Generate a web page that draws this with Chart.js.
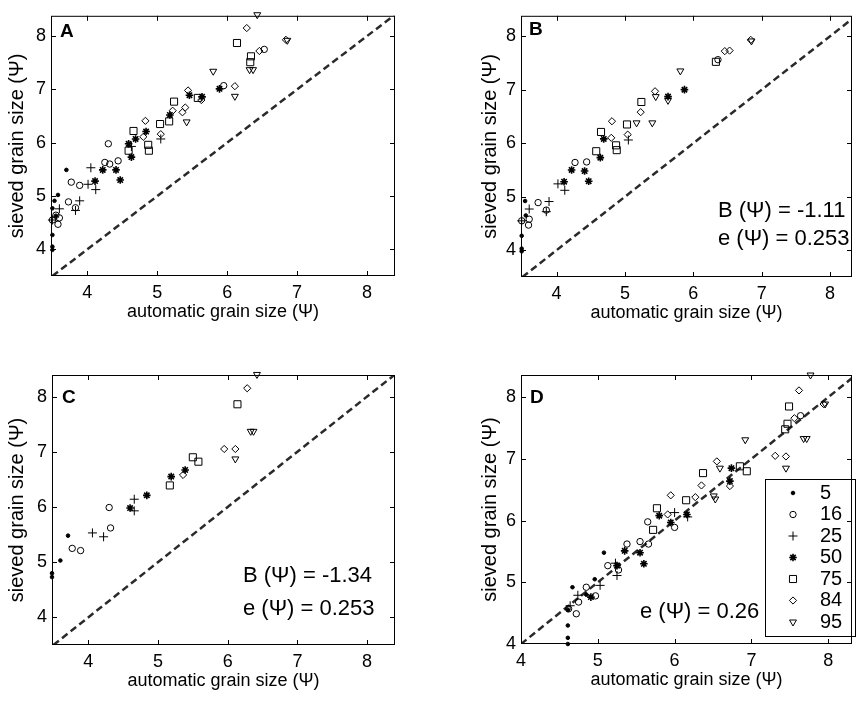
<!DOCTYPE html>
<html>
<head>
<meta charset="utf-8">
<script src="https://cdn.jsdelivr.net/npm/chart.js@4.4.1/dist/chart.umd.min.js"></script>
<style>
  html, body { margin: 0; padding: 0; background: #fff; }
  body { width: 858px; height: 701px; position: relative; overflow: hidden; }
  .panel { position: absolute; }
</style>
</head>
<body>
<div class="panel" style="left:0;top:0;width:430px;height:345px"><canvas id="chartA"></canvas></div>
<div class="panel" style="left:430px;top:0;width:428px;height:345px"><canvas id="chartB"></canvas></div>
<div class="panel" style="left:0;top:345px;width:430px;height:356px"><canvas id="chartC"></canvas></div>
<div class="panel" style="left:430px;top:345px;width:428px;height:356px"><canvas id="chartD"></canvas></div>
<script>
// percentiles shown in the legend
var percentiles = ['5', '16', '25', '50', '75', '84', '95'];
var tickValues = [4, 5, 6, 7, 8];

// panel A : raw automatic vs sieved  [automatic, sieved]
var a5  = [[3.70,5.49],[3.58,5.02],[3.53,4.91],[3.50,4.77],[3.55,4.63],[3.50,4.27],[3.50,4.05],[3.50,3.99]];
var a16 = [[3.77,5.26],[3.89,5.20],[3.73,4.89],[3.83,4.78],[3.55,4.64],[3.60,4.59],[3.58,4.47],[3.50,4.55],[4.30,5.98],[4.25,5.63],[4.32,5.60],[4.44,5.66],[5.95,7.07],[6.53,7.75]];
var a25 = [[4.05,5.53],[4.01,5.22],[4.12,5.12],[3.60,4.76],[3.89,4.91],[3.83,4.73],[3.50,4.55],[4.63,5.93],[5.05,6.07]];
var a50 = [[4.22,5.49],[4.41,5.49],[4.47,5.30],[4.11,5.28],[4.59,5.98],[4.69,6.07],[4.63,5.73],[4.84,6.21],[5.18,6.52],[5.46,6.89],[5.64,6.86],[5.89,7.01]];
var a75 = [[4.66,6.22],[4.59,5.85],[4.87,5.96],[4.88,5.85],[5.04,6.35],[5.17,6.40],[5.24,6.77],[5.58,6.84],[6.14,7.87],[6.34,7.62],[6.33,7.51]];
var a84 = [[4.83,6.41],[4.80,6.11],[5.05,6.16],[5.22,6.60],[5.36,6.57],[5.40,6.66],[5.44,6.98],[5.63,6.80],[6.11,7.06],[6.28,8.15],[6.46,7.72],[6.84,7.93]];
var a95 = [[5.42,6.39],[5.80,7.34],[6.11,6.87],[6.32,7.37],[6.37,7.37],[6.43,8.40],[6.86,7.92]];

// panel B
var b5  = [[3.54,4.92],[3.55,4.65],[3.49,4.27],[3.49,4.03],[3.49,3.98]];
var b16 = [[3.73,4.89],[3.85,4.75],[3.60,4.58],[3.59,4.47],[3.49,4.55],[4.27,5.64],[4.44,5.65],[6.36,7.56]];
var b25 = [[3.60,4.77],[3.89,4.91],[4.02,5.24],[4.12,5.12],[3.49,4.55],[5.05,6.06],[3.85,4.72]];
var b50 = [[4.11,5.28],[4.22,5.50],[4.41,5.48],[4.47,5.29],[4.64,5.73],[4.69,6.08],[5.63,6.87],[5.87,7.00]];
var b75 = [[4.58,5.85],[4.65,6.21],[4.87,5.96],[4.88,5.87],[5.03,6.35],[5.24,6.77],[6.33,7.52]];
var b84 = [[4.80,6.10],[4.81,6.41],[5.04,6.16],[5.23,6.58],[5.44,6.97],[6.46,7.72],[6.53,7.73],[6.84,7.93]];
var b95 = [[5.17,6.38],[5.40,6.38],[5.45,6.87],[5.63,6.80],[5.81,7.35],[6.85,7.91]];

// panel C
var c5  = [[3.71,5.48],[3.60,5.03],[3.48,4.80],[3.48,4.73]];
var c16 = [[3.77,5.25],[3.89,5.21],[4.30,5.99],[4.32,5.62]];
var c25 = [[4.06,5.53],[4.66,6.14],[4.66,5.93],[4.22,5.46]];
var c50 = [[4.60,5.98],[4.84,6.21],[5.19,6.55],[5.39,6.67]];
var c75 = [[5.17,6.39],[5.50,6.90],[5.58,6.82],[6.14,7.86]];
var c84 = [[5.36,6.58],[5.95,7.05],[6.11,7.05],[6.28,8.15]];
var c95 = [[6.11,6.87],[6.33,7.37],[6.37,7.37],[6.42,8.40]];

// panel D : corrected
var d5  = [[4.61,4.00],[4.61,4.10],[4.61,4.30],[4.67,4.92],[5.08,5.48],[4.85,4.80],[4.61,4.55],[4.96,5.05]];
var d16 = [[4.62,4.57],[4.72,4.49],[4.75,4.68],[4.85,4.92],[4.97,4.78],[5.13,5.27],[5.27,5.20],[5.38,5.62],[5.55,5.66],[5.66,5.62],[5.65,5.98],[6.00,5.89],[7.64,7.70]];
var d25 = [[4.74,4.79],[5.03,4.95],[5.25,5.11],[5.23,5.31],[6.00,6.13],[6.17,6.06],[4.64,4.62]];
var d50 = [[4.91,4.76],[5.25,5.27],[5.35,5.51],[5.55,5.48],[5.60,5.30],[5.80,6.08],[5.95,5.97],[6.16,6.10],[6.72,6.64],[6.74,6.85]];
var d75 = [[5.72,5.85],[5.77,6.20],[6.15,6.33],[6.37,6.77],[6.85,6.88],[6.94,6.80],[7.44,7.48],[7.47,7.57],[7.49,7.85]];
var d84 = [[5.91,6.10],[5.95,6.41],[6.27,6.38],[6.35,6.57],[6.55,6.96],[6.72,6.56],[7.31,7.05],[7.45,7.04],[7.62,8.11],[7.56,7.66],[7.94,7.89]];
var d95 = [[6.51,6.40],[6.53,6.35],[6.59,6.85],[6.92,7.31],[7.45,6.85],[7.68,7.33],[7.72,7.33],[7.77,8.36],[7.96,7.89]];

var FONT = "'Liberation Sans', Arial, Helvetica, sans-serif";

var markerStyles = {
    '5':  {pointStyle: 'circle',  radius: 1.8, fill: true,  borderWidth: 1},
    '16': {pointStyle: 'circle',  radius: 3.2, fill: false, borderWidth: 1},
    '25': {pointStyle: 'cross',   radius: 4.5, fill: false, borderWidth: 1},
    '50': {pointStyle: 'star',    radius: 3.8, fill: false, borderWidth: 1.6},
    '75': {pointStyle: 'rect',    radius: 5,   fill: false, borderWidth: 1},
    '84': {pointStyle: 'rectRot', radius: 3.6, fill: false, borderWidth: 1},
    '95': {pointStyle: 'triangle',radius: 4,   fill: false, borderWidth: 1, rotation: 180}
};

function toXY(pairs) {
    return pairs.map(function(p) { return {x: p[0], y: p[1]}; });
}

// draws frame, inward ticks, panel letter, notes and (optionally) legend
var framePlugin = {
    id: 'frame',
    afterDatasetsDraw: function(chart, args, opts) {
        var ctx = chart.ctx;
        var a = chart.chartArea;
        var xs = chart.scales.x, ys = chart.scales.y;
        ctx.save();
        ctx.strokeStyle = '#000';
        ctx.lineWidth = 1;
        ctx.strokeRect(a.left + 0.5, a.top + 0.5, a.right - a.left - 1, a.bottom - a.top - 1);
        ctx.beginPath();
        tickValues.forEach(function(v) {
            var px = Math.round(xs.getPixelForValue(v)) + 0.5;
            if (px > a.left + 1 && px < a.right - 1) {
                ctx.moveTo(px, a.bottom); ctx.lineTo(px, a.bottom - 5);
                ctx.moveTo(px, a.top); ctx.lineTo(px, a.top + 5);
            }
            var py = Math.round(ys.getPixelForValue(v)) + 0.5;
            if (py > a.top + 1 && py < a.bottom - 1) {
                ctx.moveTo(a.left, py); ctx.lineTo(a.left + 5, py);
                ctx.moveTo(a.right, py); ctx.lineTo(a.right - 5, py);
            }
        });
        ctx.stroke();

        var ox = opts.ox, oy = opts.oy;
        ctx.fillStyle = '#000';
        ctx.textBaseline = 'middle';
        ctx.textAlign = 'left';
        ctx.font = 'bold 19px ' + FONT;
        ctx.fillText(opts.letter[0], opts.letter[1] - ox, opts.letter[2] - oy);

        ctx.font = '22px ' + FONT;
        (opts.notes || []).forEach(function(n) {
            ctx.fillText(n[0], n[1] - ox, n[2] - oy);
        });

        if (opts.legend) {
            var L = opts.legend;
            ctx.lineWidth = 1;
            ctx.strokeRect(L.left - ox + 0.5, L.top - oy + 0.5, L.width, L.height);
            ctx.font = '20px ' + FONT;
            percentiles.forEach(function(p, i) {
                var st = markerStyles[p];
                var cy = L.firstRow - oy + i * L.rowGap;
                ctx.strokeStyle = '#000';
                ctx.fillStyle = st.fill ? '#000' : 'rgba(0,0,0,0)';
                ctx.lineWidth = st.borderWidth;
                Chart.helpers.drawPoint(ctx, {pointStyle: st.pointStyle, radius: st.radius, rotation: st.rotation || 0, borderWidth: st.borderWidth}, L.markerX - ox, cy);
                ctx.fillStyle = '#000';
                ctx.fillText(p, L.textX - ox, cy);
            });
        }
        ctx.restore();
    }
};

function makePanel(id, p) {
    var datasets = [{
        data: [{x: p.line[0], y: p.line[0]}, {x: p.line[1], y: p.line[1]}],
        showLine: true,
        pointRadius: 0,
        borderColor: '#2a2a2a',
        borderWidth: 2.5,
        borderDash: [7, 4],
        order: 10
    }];
    percentiles.forEach(function(pc, i) {
        var st = markerStyles[pc];
        datasets.push({
            label: pc,
            data: toXY(p.series[i]),
            pointStyle: st.pointStyle,
            pointRadius: st.radius,
            pointRotation: st.rotation || 0,
            pointBorderWidth: st.borderWidth,
            pointBorderColor: '#000',
            pointBackgroundColor: st.fill ? '#000' : 'rgba(0,0,0,0)',
            showLine: false,
            clip: false,
            order: 1
        });
    });

    var axisH = p.canvas[1] + p.canvas[3] - p.area[3];
    var axisW = p.area[0] - p.canvas[0];
    var tickFont = {family: FONT, size: 18};
    var titleFont = {family: FONT, size: 18};

    new Chart(document.getElementById(id), {
        type: 'scatter',
        data: {datasets: datasets},
        options: {
            responsive: true,
            maintainAspectRatio: false,
            animation: false,
            events: [],
            layout: {padding: {
                top: p.area[1] - p.canvas[1],
                right: p.canvas[0] + p.canvas[2] - p.area[2],
                left: 0, bottom: 0
            }},
            plugins: {
                legend: {display: false},
                tooltip: {enabled: false},
                frame: {
                    ox: p.canvas[0], oy: p.canvas[1],
                    letter: p.letter, notes: p.notes, legend: p.legend
                }
            },
            scales: {
                x: {
                    type: 'linear', min: p.xRange[0], max: p.xRange[1],
                    grid: {display: false, drawTicks: false, tickLength: 0},
                    border: {display: false},
                    ticks: {font: tickFont, color: '#000', padding: 6, maxRotation: 0, autoSkip: false},
                    afterBuildTicks: function(s) { s.ticks = tickValues.map(function(v) { return {value: v}; }); },
                    afterFit: function(s) { s.height = axisH; },
                    title: {display: true, text: 'automatic grain size (\u03A8)', font: titleFont, color: '#000',
                            padding: {top: 0, bottom: axisH - p.xTitleGap - 10.8}}
                },
                y: {
                    type: 'linear', min: p.yRange[0], max: p.yRange[1],
                    grid: {display: false, drawTicks: false, tickLength: 0},
                    border: {display: false},
                    ticks: {font: tickFont, color: '#000', padding: 5, autoSkip: false},
                    afterBuildTicks: function(s) { s.ticks = tickValues.map(function(v) { return {value: v}; }); },
                    afterFit: function(s) { s.width = axisW; },
                    title: {display: true, text: 'sieved grain size (\u03A8)', font: {family: FONT, size: 20}, color: '#000',
                            padding: {top: p.yTitleX - p.canvas[0] - 12, bottom: 0}}
                }
            }
        },
        plugins: [framePlugin]
    });
}

makePanel('chartA', {
    canvas: [0, 0, 430, 345], area: [51, 8, 395, 276],
    xRange: [3.48, 8.40], yRange: [3.50, 8.38], line: [3.5, 8.4],
    xTitleGap: 36, yTitleX: 17,
    series: [a5, a16, a25, a50, a75, a84, a95],
    letter: ['A', 60, 32], notes: []
});
makePanel('chartB', {
    canvas: [430, 0, 428, 345], area: [521, 8, 857, 277],
    xRange: [3.48, 8.32], yRange: [3.50, 8.38], line: [3.5, 8.4],
    xTitleGap: 36, yTitleX: 490,
    series: [b5, b16, b25, b50, b75, b84, b95],
    letter: ['B', 529, 30],
    notes: [['B (\u03A8) = -1.11', 718, 211], ['e (\u03A8) = 0.253', 718, 239]]
});
makePanel('chartC', {
    canvas: [0, 345, 430, 356], area: [52, 375, 395, 645],
    xRange: [3.48, 8.40], yRange: [3.50, 8.39], line: [3.5, 8.4],
    xTitleGap: 36, yTitleX: 17,
    series: [c5, c16, c25, c50, c75, c84, c95],
    letter: ['C', 62, 398],
    notes: [['B (\u03A8) = -1.34', 243, 576], ['e (\u03A8) = 0.253', 243, 609]]
});
makePanel('chartD', {
    canvas: [430, 345, 428, 356], area: [521, 375, 857, 644],
    xRange: [4.00, 8.31], yRange: [4.00, 8.36], line: [4.0, 8.4],
    xTitleGap: 36, yTitleX: 490,
    series: [d5, d16, d25, d50, d75, d84, d95],
    letter: ['D', 530, 398],
    notes: [['e (\u03A8) = 0.26', 640, 612]],
    legend: {left: 765, top: 479, width: 90, height: 157, markerX: 793, textX: 820, firstRow: 493, rowGap: 21.5}
});
</script>
</body>
</html>
